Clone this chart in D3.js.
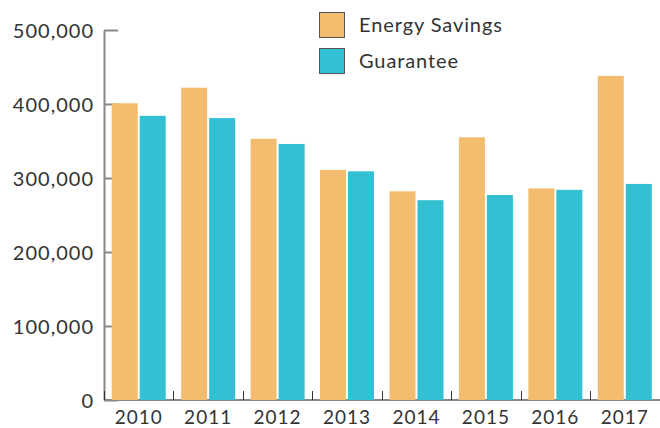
<!DOCTYPE html>
<html>
<head>
<meta charset="utf-8">
<script src="https://cdn.jsdelivr.net/npm/d3@7"></script>
<style>
  body { margin: 0; background: #fff; }
  text { font-family: "Lato", "Open Sans", sans-serif; fill: #333; }
</style>
</head>
<body>
<div class="chart"></div>
<script>
// Data
var years = ["2010", "2011", "2012", "2013", "2014", "2015", "2016", "2017"];
var series = ["Energy Savings", "Guarantee"];
var energySavings = [401000, 422000, 353000, 311000, 282000, 355000, 286000, 438000];
var guarantee = [384000, 381000, 346000, 309000, 270000, 277000, 284000, 292000];
var yTicks = [0, 100000, 200000, 300000, 400000, 500000];
var colors = ["#F3BC6E", "#33C0D2"];

var svgWidth = 660;
var svgHeight = 428;

var margin = { top: 30, right: 0, bottom: 28, left: 104 };
var width = svgWidth - margin.left - margin.right;
var height = svgHeight - margin.top - margin.bottom;

var svg = d3.select(".chart")
  .append("svg")
  .attr("width", svgWidth)
  .attr("height", svgHeight);

var chartGroup = svg.append("g")
  .attr("transform", `translate(${margin.left}, ${margin.top})`);

var rows = years.map(function(y, i) {
  return { year: y, values: [energySavings[i], guarantee[i]] };
});

// Scales
var x0 = d3.scaleBand()
  .domain(years)
  .range([0, width - 0.5]);

var x1 = d3.scaleBand()
  .domain(series)
  .range([0, 54])
  .paddingInner(2 / 28);

var groupOffset = (x0.bandwidth() - 54) / 2;

var yLinearScale = d3.scaleLinear()
  .domain([0, 500000])
  .range([height, 0]);

// Y axis (ticks point inward, under the bars)
var leftAxis = d3.axisLeft(yLinearScale)
  .tickValues(yTicks)
  .tickFormat(d3.format(","))
  .tickSizeInner(-14)
  .tickSizeOuter(0)
  .tickPadding(10);

var yAxisG = chartGroup.append("g").call(leftAxis);
yAxisG.select(".domain").attr("stroke", "#888").attr("stroke-width", 2);
yAxisG.selectAll(".tick line").attr("stroke", "#888").attr("stroke-width", 2);
yAxisG.selectAll(".tick text")
  .attr("font-size", "20px")
  .attr("font-family", "Lato, sans-serif")
  .attr("letter-spacing", "1px")
  .attr("dy", "0.36em")
  .attr("fill", "#333");

// X axis baseline and group dividers
chartGroup.append("line")
  .attr("x1", 0)
  .attr("x2", width)
  .attr("y1", height)
  .attr("y2", height)
  .attr("stroke", "#888")
  .attr("stroke-width", 2);

chartGroup.selectAll(".xdiv")
  .data(years)
  .enter()
  .append("line")
  .attr("class", "xdiv")
  .attr("x1", d => Math.round(x0(d)) + 0.5)
  .attr("x2", d => Math.round(x0(d)) + 0.5)
  .attr("y1", height)
  .attr("y2", height - 9)
  .attr("stroke", "#333")
  .attr("stroke-width", 1);

chartGroup.selectAll(".xlabel")
  .data(years)
  .enter()
  .append("text")
  .attr("class", "xlabel")
  .attr("x", d => x0(d) + x0.bandwidth() / 2)
  .attr("y", height + 24)
  .attr("text-anchor", "middle")
  .attr("font-size", "19px")
  .attr("letter-spacing", "1px")
  .text(d => d);

// Bars
var groups = chartGroup.selectAll(".group")
  .data(rows)
  .enter()
  .append("g")
  .attr("class", "group")
  .attr("transform", d => `translate(${x0(d.year) + groupOffset}, 0)`);

groups.selectAll("rect")
  .data(d => d.values.map((v, i) => ({ key: series[i], value: v, i: i })))
  .enter()
  .append("rect")
  .attr("x", d => x1(d.key))
  .attr("y", d => yLinearScale(d.value))
  .attr("width", x1.bandwidth())
  .attr("height", d => height - yLinearScale(d.value))
  .attr("fill", d => colors[d.i]);

// Legend
var legend = svg.append("g")
  .attr("transform", "translate(319, 12)");

var legendItems = legend.selectAll(".legend-item")
  .data(series)
  .enter()
  .append("g")
  .attr("class", "legend-item")
  .attr("transform", (d, i) => `translate(0, ${i * 36})`);

legendItems.append("rect")
  .attr("x", 0.5)
  .attr("y", 0.5)
  .attr("width", 25)
  .attr("height", 25)
  .attr("fill", (d, i) => colors[i])
  .attr("stroke", "#555")
  .attr("stroke-width", 1);

legendItems.append("text")
  .attr("x", 40)
  .attr("y", 20)
  .attr("font-size", "20px")
  .attr("letter-spacing", "0.9px")
  .text(d => d);
</script>
</body>
</html>
